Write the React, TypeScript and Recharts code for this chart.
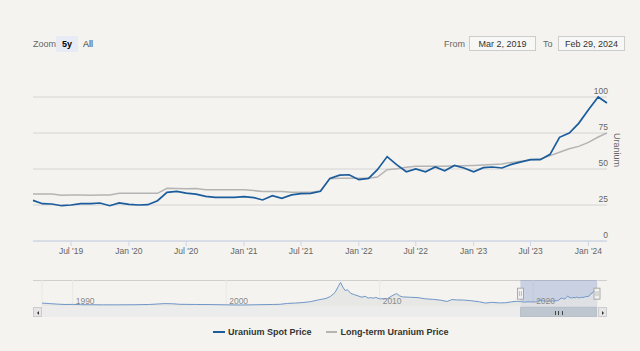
import React from 'react';
import { Area, AreaChart, CartesianGrid, Line, LineChart, ReferenceArea, ReferenceDot, XAxis, YAxis } from 'recharts';

// monthly points, first and last match the selected range
const dates = [
  '2019-03-02', '2019-04-01', '2019-05-01', '2019-06-01', '2019-07-01', '2019-08-01', '2019-09-01', '2019-10-01',
  '2019-11-01', '2019-12-01', '2020-01-01', '2020-02-01', '2020-03-01', '2020-04-01', '2020-05-01', '2020-06-01',
  '2020-07-01', '2020-08-01', '2020-09-01', '2020-10-01', '2020-11-01', '2020-12-01', '2021-01-01', '2021-02-01',
  '2021-03-01', '2021-04-01', '2021-05-01', '2021-06-01', '2021-07-01', '2021-08-01', '2021-09-01', '2021-10-01',
  '2021-11-01', '2021-12-01', '2022-01-01', '2022-02-01', '2022-03-01', '2022-04-01', '2022-05-01', '2022-06-01',
  '2022-07-01', '2022-08-01', '2022-09-01', '2022-10-01', '2022-11-01', '2022-12-01', '2023-01-01', '2023-02-01',
  '2023-03-01', '2023-04-01', '2023-05-01', '2023-06-01', '2023-07-01', '2023-08-01', '2023-09-01', '2023-10-01',
  '2023-11-01', '2023-12-01', '2024-01-01', '2024-02-01', '2024-02-29',
];

const spotPrice = [
  28.2, 25.9, 25.7, 24.5, 25.0, 25.9, 25.9, 26.4, 24.5, 26.4, 25.5, 25.0, 25.2, 28.0, 33.8, 34.5,
  33.3, 32.5, 31.0, 30.3, 30.3, 30.3, 30.8, 30.1, 28.5, 31.5, 29.6, 32.0, 32.9, 33.1, 34.5, 43.5,
  45.7, 46.0, 42.6, 43.5, 49.5, 58.6, 53.0, 48.1, 50.0, 48.1, 51.4, 48.8, 52.5, 50.7, 48.1, 50.9,
  51.4, 50.7, 53.2, 54.9, 56.5, 56.5, 60.2, 72.0, 75.0, 81.7, 91.2, 100.0, 95.8,
];

const longTermPrice = [
  32.6, 32.6, 32.6, 31.7, 32.0, 32.0, 31.8, 32.0, 32.0, 33.1, 33.1, 33.1, 33.1, 33.1, 36.6, 36.4,
  36.3, 36.5, 35.6, 35.6, 35.6, 35.6, 35.6, 35.0, 34.3, 34.3, 34.3, 33.8, 33.8, 33.8, 34.7, 43.3,
  43.5, 43.5, 43.5, 43.5, 44.4, 49.5, 50.2, 51.2, 51.9, 51.9, 51.9, 51.9, 52.3, 52.3, 52.5, 52.8,
  53.2, 53.5, 54.6, 55.3, 56.5, 56.9, 59.3, 61.6, 64.1, 65.7, 68.5, 72.2, 75.0,
];

const xTickDates = [
  '2019-07-01', '2020-01-01', '2020-07-01', '2021-01-01', '2021-07-01',
  '2022-01-01', '2022-07-01', '2023-01-01', '2023-07-01', '2024-01-01',
];
const xTickLabels = ["Jul '19", "Jan '20", "Jul '20", "Jan '21", "Jul '21", "Jan '22", "Jul '22", "Jan '23", "Jul '23", "Jan '24"];
const yTicks = [0, 25, 50, 75, 100];

// navigator history before the zoomed range (decimal years)
const navYears = [
  1988, 1988.5, 1989, 1989.5, 1990, 1990.5, 1991, 1992, 1993, 1994, 1995, 1996, 1996.5, 1997, 1998, 1999,
  2000, 2001, 2002, 2003, 2003.5, 2004, 2004.5, 2005, 2005.5, 2006, 2006.5, 2006.8, 2007.1, 2007.3, 2007.45, 2007.6,
  2007.75, 2007.9, 2008.1, 2008.3, 2008.45, 2008.65, 2008.85, 2009.05, 2009.25, 2009.4, 2009.6, 2009.75, 2010, 2010.5,
  2010.8, 2011.1, 2011.3, 2011.5, 2012, 2012.5, 2012.7, 2013, 2013.5, 2014, 2014.4, 2014.7, 2015, 2015.5,
  2016, 2016.5, 2016.9, 2017.3, 2017.8, 2018.2, 2018.6, 2018.9,
];
const navValues = [
  19, 16, 13, 11, 11.5, 10, 9.5, 9, 9, 9.5, 11, 16, 15, 12, 11, 10.5,
  9, 8, 9.5, 11, 12, 17, 19, 22, 27, 37, 45, 57, 80, 113, 136, 110,
  90, 95, 75, 68, 64, 58, 52, 58, 47, 50, 47, 51, 43, 44,
  60, 73, 60, 54, 52, 50, 47, 43, 40, 35, 28, 39, 37, 36,
  32, 26, 19, 23, 20, 21, 26, 29,
];
const navTickYears = [1990, 2000, 2010, 2020];

const rangeFrom = 'Mar 2, 2019';
const rangeTo = 'Feb 29, 2024';

const font = '"Liberation Sans", Arial, sans-serif';
const bg = '#f4f3ef';

const toTime = (s: string) => Date.parse(s + 'T00:00:00Z');
const toYear = (s: string) => {
  const [y, m, d] = s.split('-').map(Number);
  return y + (m - 1) / 12 + (d - 1) / 365;
};

const mainData = dates.map((d, i) => ({ t: toTime(d), spot: spotPrice[i], lt: longTermPrice[i] }));
const navData = [
  ...navYears.map((yr, i) => ({ yr, v: navValues[i] })),
  ...dates.map((d, i) => ({ yr: toYear(d), v: spotPrice[i] })),
];
const xTicks = xTickDates.map(toTime);
const selStart = toYear(dates[0]);
const selEnd = toYear(dates[dates.length - 1]);
const navStart = navYears[0];

// navigator geometry
const navLeft = 42;
const navRight = 597;
const thumbLeft = navLeft + ((selStart - navStart) / (selEnd - navStart)) * (navRight - navLeft);
const thumbRight = navRight;

const renderYTick = (props: any) => {
  const { x, y, payload } = props;
  return (
    <text x={x + 1} y={y - 3} textAnchor="end" fontSize={8.5} fill="#666" fontFamily={font}>
      {payload.value}
    </text>
  );
};

const renderNavTick = (props: any) => {
  const { x, y, payload } = props;
  return (
    <text x={x + 3} y={y - 3} textAnchor="start" fontSize={8.5} fill="#8a8a8a" fontFamily={font}>
      {payload.value}
    </text>
  );
};

function Handle(props: any) {
  const { cx, cy } = props;
  return (
    <g>
      <rect x={cx - 3} y={cy - 5.5} width={6} height={11} fill="#f2f2f2" stroke="#999" strokeWidth={0.8} />
      <line x1={cx - 1} x2={cx - 1} y1={cy - 2.5} y2={cy + 2.5} stroke="#999" strokeWidth={0.6} />
      <line x1={cx + 1} x2={cx + 1} y1={cy - 2.5} y2={cy + 2.5} stroke="#999" strokeWidth={0.6} />
    </g>
  );
}

const boxStyle: React.CSSProperties = {
  position: 'absolute',
  top: 36,
  height: 15,
  border: '1px solid #ccc',
  background: '#f7f7f6',
  color: '#333',
  fontSize: 9,
  lineHeight: '14px',
  textAlign: 'center',
  boxSizing: 'border-box',
};

export default function App() {
  return (
    <div style={{ position: 'absolute', left: 0, top: 0, width: 640, height: 351, background: bg, fontFamily: font, overflow: 'hidden' }}>
      {/* range selector */}
      <div style={{ position: 'absolute', left: 33, top: 39, fontSize: 9, color: '#666' }}>Zoom</div>
      <div style={{ position: 'absolute', left: 56, top: 36, width: 22, height: 16, background: '#e6ebf5', fontSize: 9, fontWeight: 'bold', color: '#000', lineHeight: '16px', textAlign: 'center' }}>5y</div>
      <div style={{ position: 'absolute', left: 83, top: 39, fontSize: 9, color: '#333' }}>All</div>
      <div style={{ position: 'absolute', left: 444, top: 39, fontSize: 9, color: '#666' }}>From</div>
      <div style={{ ...boxStyle, left: 469, width: 67 }}>{rangeFrom}</div>
      <div style={{ position: 'absolute', left: 543, top: 39, fontSize: 9, color: '#666' }}>To</div>
      <div style={{ ...boxStyle, left: 558, width: 67 }}>{rangeTo}</div>

      {/* main chart */}
      <div style={{ position: 'absolute', left: 0, top: 0 }}>
        <LineChart width={640} height={262} data={mainData} margin={{ top: 97, right: 32, bottom: 1, left: 33 }}>
          <CartesianGrid stroke="#d4d4d4" vertical={false} />
          <XAxis
            dataKey="t"
            type="number"
            domain={[mainData[0].t, mainData[mainData.length - 1].t]}
            ticks={xTicks}
            tickFormatter={(v: number) => xTickLabels[xTicks.indexOf(v)]}
            height={20}
            tickSize={5}
            axisLine={{ stroke: '#ccd6eb' }}
            tickLine={{ stroke: '#ccd6eb' }}
            tick={{ fontSize: 8.5, fill: '#666', fontFamily: font }}
            interval={0}
          />
          <YAxis
            orientation="right"
            width={1}
            domain={[0, 100]}
            ticks={yTicks}
            axisLine={false}
            tickLine={false}
            tickSize={0}
            tickMargin={0}
            tick={renderYTick}
            interval={0}
          />
          <Line type="linear" dataKey="lt" stroke="#b4b4b4" strokeWidth={1.5} dot={false} isAnimationActive={false} />
          <Line type="linear" dataKey="spot" stroke="#1b5c9c" strokeWidth={1.7} dot={false} isAnimationActive={false} />
        </LineChart>
      </div>
      <div style={{ position: 'absolute', left: 617, top: 150, fontSize: 9, color: '#666', transform: 'translate(-50%, -50%) rotate(90deg)', whiteSpace: 'nowrap' }}>
        Uranium
      </div>

      {/* navigator */}
      <div style={{ position: 'absolute', left: 33, top: 280, width: 574, height: 1, background: '#cfcfcf' }} />
      <div style={{ position: 'absolute', left: 0, top: 270 }}>
        <AreaChart width={640} height={40} data={navData} margin={{ top: 10, right: 640 - navRight, bottom: 1.7, left: navLeft }}>
          <CartesianGrid stroke="#e8e8e6" horizontal={false} />
          <XAxis
            dataKey="yr"
            type="number"
            domain={[navStart, selEnd]}
            ticks={navTickYears}
            height={1}
            axisLine={false}
            tickLine={false}
            tickSize={0}
            tickMargin={0}
            tick={renderNavTick}
            interval={0}
          />
          <YAxis hide domain={[-5, 150]} />
          <ReferenceArea x1={selStart} x2={selEnd} fill="#6685c2" fillOpacity={0.3} stroke="none" />
          <Area type="linear" dataKey="v" stroke="#7097c8" strokeWidth={1} fill="#e4e4e4" fillOpacity={0.8} isAnimationActive={false} />
          <ReferenceDot x={selStart} y={72.5} shape={<Handle />} ifOverflow="visible" />
          <ReferenceDot x={selEnd} y={72.5} shape={<Handle />} ifOverflow="visible" />
        </AreaChart>
      </div>

      {/* scrollbar */}
      <div style={{ position: 'absolute', left: 33, top: 307, width: 574, height: 10, background: '#ececec' }} />
      <div style={{ position: 'absolute', left: thumbLeft, top: 307, width: thumbRight - thumbLeft, height: 10, background: '#bec6cf', boxSizing: 'border-box', border: '1px solid #b8c0ca' }}>
        <div style={{ position: 'absolute', left: '50%', top: 2.5, width: 6, height: 4, transform: 'translateX(-50%)', borderLeft: '1px solid #444', borderRight: '1px solid #444' }}>
          <div style={{ position: 'absolute', left: 2, top: 0, width: 1, height: 4, background: '#444' }} />
        </div>
      </div>
      <div style={{ position: 'absolute', left: 33, top: 307, width: 9, height: 10, background: '#e6e6e6', border: '1px solid #ccc', boxSizing: 'border-box' }}>
        <div style={{ position: 'absolute', left: 2.5, top: 2.5, width: 0, height: 0, borderTop: '2px solid transparent', borderBottom: '2px solid transparent', borderRight: '2px solid #333' }} />
      </div>
      <div style={{ position: 'absolute', left: 598, top: 307, width: 9, height: 10, background: '#e6e6e6', border: '1px solid #ccc', boxSizing: 'border-box' }}>
        <div style={{ position: 'absolute', left: 3, top: 2.5, width: 0, height: 0, borderTop: '2px solid transparent', borderBottom: '2px solid transparent', borderLeft: '2px solid #333' }} />
      </div>

      {/* legend */}
      <div style={{ position: 'absolute', left: 213, top: 327, display: 'flex', alignItems: 'center', fontSize: 9, fontWeight: 'bold', color: '#333', whiteSpace: 'nowrap' }}>
        <span style={{ display: 'inline-block', width: 12, height: 2, background: '#1b5c9c', marginRight: 3 }} />
        <span>Uranium Spot Price</span>
        <span style={{ display: 'inline-block', width: 11, height: 2, background: '#b4b4b4', marginLeft: 14, marginRight: 4 }} />
        <span>Long-term Uranium Price</span>
      </div>
    </div>
  );
}
